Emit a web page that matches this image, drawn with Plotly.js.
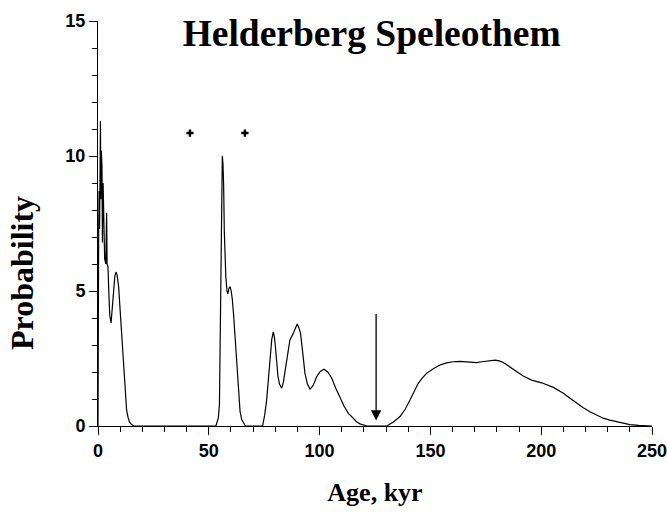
<!DOCTYPE html>
<html>
<head>
<meta charset="utf-8">
<script src="https://cdn.plot.ly/plotly-3.0.1.min.js"></script>
<style>html,body{margin:0;padding:0;background:#fff;}#chart{width:667px;height:512px;}</style>
</head>
<body>
<div id="chart"></div>
<script>
// Age (kyr) and probability
const ages = [
  0,0.1,0.3,0.5,0.7,0.9,1.1,1.3,1.5,1.8,2.0,2.3,2.6,3.0,3.5,3.9,4.1,4.5,4.9,5.3,5.9,6.4,7.1,7.6,8.1,8.6,9.3,9.9,10.4,11.0,11.6,12.3,12.9,13.5,14.2,15.0,16.1,
  53.2,54.3,54.8,55.1,55.4,55.8,56.1,56.4,56.7,57.0,57.3,57.7,58.2,58.6,59.1,59.6,60.1,60.6,61.2,61.8,62.4,62.9,63.5,64.1,64.8,65.6,66.5,
  74.3,75.2,76.1,76.9,77.6,78.4,79.1,79.6,80.1,80.6,81.2,81.9,82.9,83.6,84.4,85.5,86.6,88.1,89.0,89.9,90.6,91.4,92.4,93.4,94.5,95.7,97.1,98.7,100.3,102.0,103.7,105.5,107.3,109.2,111.1,113.0,114.8,116.7,118.2,119.7,121.5,
  130.3,133.3,136.3,138.6,140.8,142.7,144.5,146.4,148.3,151.3,154.3,157.3,160.3,163.3,166.4,168.6,170.9,173.2,175.4,179.2,181.0,182.9,185.1,187.4,189.6,191.9,195.7,200.2,205.5,210,213,216,219,222,225,228,231,234,237,240,244,247.6,250
];
const probability = [
  0,5.8,7.2,8.7,7.3,9.0,11.3,8.4,10.2,9.6,6.8,9.0,7.2,6.2,6.0,7.9,6.0,5.9,4.9,4.1,3.82,4.4,5.28,5.55,5.7,5.6,5.16,4.4,3.68,2.85,2.07,1.08,0.6,0.34,0.15,0.07,0,
  0,0.3,0.8,3.0,5.8,8.9,10.0,9.7,8.9,7.2,5.8,5.5,5.0,4.9,5.1,5.16,5.0,4.7,4.1,3.4,2.5,1.77,1.1,0.55,0.25,0.1,0,
  0,0.4,0.96,1.8,2.57,3.2,3.49,3.3,2.9,2.33,1.85,1.55,1.40,1.6,2.07,2.7,3.19,3.43,3.6,3.78,3.65,3.43,2.7,1.95,1.55,1.36,1.5,1.83,2.02,2.10,2.0,1.77,1.4,1.03,0.72,0.47,0.3,0.16,0.08,0.03,0,
  0,0.15,0.35,0.62,0.96,1.27,1.58,1.78,1.95,2.12,2.26,2.34,2.38,2.39,2.38,2.36,2.35,2.38,2.41,2.44,2.41,2.35,2.23,2.10,1.97,1.85,1.70,1.60,1.43,1.21,1.03,0.84,0.68,0.53,0.4,0.29,0.22,0.17,0.1,0.05,0.02,0,0
];
// "+" marks above the peaks
const markAges = [41.5, 66.3];
const markProb = [10.85, 10.85];
// Arrow (age, top, tip)
const arrowAge = 125.5;
const arrowTop = 4.2;
const arrowTip = 0.2;

const xTickVals = [0,50,100,150,200,250];
const xTickText = ['0','50','100','150','200','250'];
const yTickVals = [0,5,10,15];
const yTickText = ['0','5','10','15'];

const tickFont = {family: 'Liberation Sans, Arial, sans-serif', size: 18, color: '#000', weight: 'bold'};
const serif = 'Liberation Serif, Times New Roman, serif';

const traces = [
  {x: ages, y: probability, type: 'scatter', mode: 'lines',
   line: {color: '#000', width: 1.2}, cliponaxis: false, hoverinfo: 'skip'},
  {x: markAges, y: markProb, type: 'scatter', mode: 'markers',
   marker: {symbol: 'cross', size: 6, color: '#000'}, cliponaxis: false, hoverinfo: 'skip'}
];

const layout = {
  width: 667, height: 512,
  margin: {l: 98, r: 15, t: 21, b: 86},
  paper_bgcolor: '#fff', plot_bgcolor: '#fff',
  showlegend: false,
  title: {text: '<b>Helderberg Speleothem</b>', font: {family: serif, size: 37.5, color: '#000'},
          xref: 'paper', x: 0.494, xanchor: 'center', yref: 'container', y: 0.936, yanchor: 'middle'},
  xaxis: {range: [0, 250], tickvals: xTickVals, ticktext: xTickText,
          showline: true, linecolor: '#000', linewidth: 1, showgrid: false, zeroline: false,
          ticks: 'outside', ticklen: 8, tickcolor: '#000', tickwidth: 1,
          ticklabeloverflow: 'allow',
          minor: {dtick: 10, tick0: 0, ticks: 'outside', ticklen: 5, tickcolor: '#000', showgrid: false},
          tickfont: tickFont,
          title: {text: '<b>Age, kyr</b>', font: {family: serif, size: 26, color: '#000'}, standoff: 23}},
  yaxis: {range: [0, 15], tickvals: yTickVals, ticktext: yTickText,
          showline: true, linecolor: '#000', linewidth: 1, showgrid: false, zeroline: false,
          ticks: 'outside', ticklen: 8, tickcolor: '#000', tickwidth: 1,
          minor: {dtick: 1, tick0: 0, ticks: 'outside', ticklen: 5, tickcolor: '#000', showgrid: false},
          tickfont: tickFont},
  annotations: [
    {x: arrowAge, y: arrowTip, ax: arrowAge, ay: arrowTop, xref: 'x', yref: 'y', axref: 'x', ayref: 'y',
     showarrow: true, arrowhead: 2, arrowsize: 1.6, arrowwidth: 1.3, arrowcolor: '#000', text: ''},
    {text: '<b>Probability</b>', textangle: -90, showarrow: false,
     xref: 'paper', yref: 'paper', x: -0.137, y: 0.378, xanchor: 'center', yanchor: 'middle',
     font: {family: serif, size: 32, color: '#000'}}
  ]
};

Plotly.newPlot('chart', traces, layout, {displayModeBar: false, staticPlot: true});
</script>
</body>
</html>
